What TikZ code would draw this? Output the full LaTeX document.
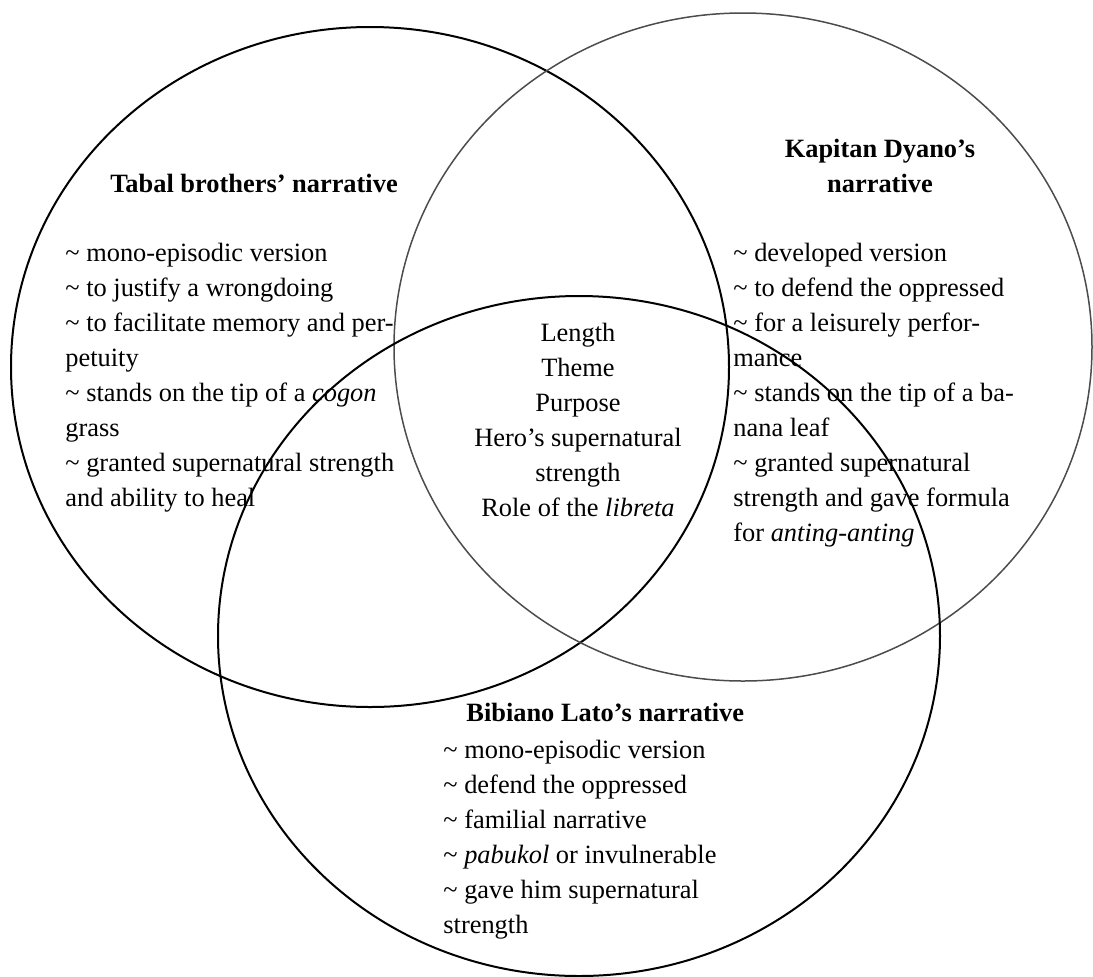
\documentclass[tikz,border=0pt]{standalone}
\usepackage{fontspec}
\setmainfont{Liberation Serif}
\definecolor{rimgray}{gray}{0.3}
\newcommand{\tld}{\textasciitilde{} }
\begin{document}
\begin{tikzpicture}[x=0.5pt,y=-0.5pt,
  every node/.style={font=\fontsize{13.2}{17.5}\selectfont, inner sep=0pt},
  title/.style={font=\fontsize{13.2}{17.5}\selectfont\bfseries, align=center},
  list/.style={align=left, anchor=base west}]
  \useasboundingbox (0,0) rectangle (1093,976);
  % the three sets
  \coordinate (tabal) at (370,367);
  \coordinate (dyano) at (743,347);
  \coordinate (lato) at (579,636);
  \draw[line width=1pt] (tabal) ellipse (359 and 340);
  \draw[line width=0.75pt, rimgray] (dyano) ellipse (349 and 334);
  \draw[line width=1pt] (lato) ellipse (361 and 340);
  % headings
  \node[title] (tabalT) at (254,183) {Tabal brothers' narrative};
  \node[title] (dyanoT) at (880,166) {Kapitan Dyano's\\narrative};
  \node[title, anchor=west] (latoT) at (466,712) {Bibiano Lato's narrative};
  % lists (placed by the baseline of their last line)
  \node[list] (tabalL) at (65,506) {\tld mono-episodic version\\
    \tld to justify a wrongdoing\\
    \tld to facilitate memory and per-\\
    petuity\\
    \tld stands on the tip of a \textit{cogon}\\
    grass\\
    \tld granted supernatural strength\\
    and ability to heal};
  \node[list] (dyanoL) at (733,541) {\tld developed version\\
    \tld to defend the oppressed\\
    \tld for a leisurely perfor-\\
    mance\\
    \tld stands on the tip of a ba-\\
    nana leaf\\
    \tld granted supernatural\\
    strength and gave formula\\
    for \textit{anting-anting}};
  \node[list] (latoL) at (443,933) {\tld mono-episodic version\\
    \tld defend the oppressed\\
    \tld familial narrative\\
    \tld \textit{pabukol} or invulnerable\\
    \tld gave him supernatural\\
    strength};
  % shared by all three
  \node[align=center] (common) at (578,420) {Length\\Theme\\Purpose\\Hero's supernatural\\strength\\Role of the \textit{libreta}};
\end{tikzpicture}
\end{document}
